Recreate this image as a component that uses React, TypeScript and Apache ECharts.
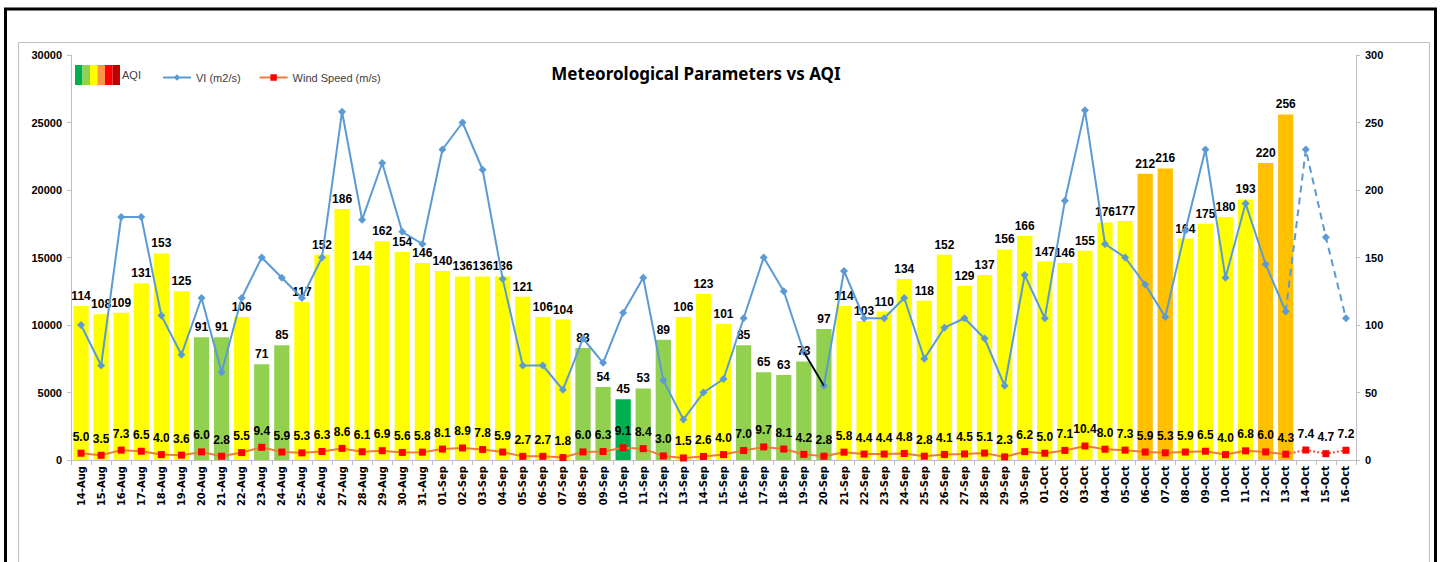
import React, { useEffect, useRef } from "react";
import * as echarts from "echarts";

const dates = [
  "14-Aug","15-Aug","16-Aug","17-Aug","18-Aug","19-Aug","20-Aug","21-Aug","22-Aug","23-Aug","24-Aug","25-Aug","26-Aug","27-Aug","28-Aug","29-Aug","30-Aug","31-Aug",
  "01-Sep","02-Sep","03-Sep","04-Sep","05-Sep","06-Sep","07-Sep","08-Sep","09-Sep","10-Sep","11-Sep","12-Sep","13-Sep","14-Sep","15-Sep","16-Sep","17-Sep","18-Sep","19-Sep","20-Sep","21-Sep","22-Sep","23-Sep","24-Sep","25-Sep","26-Sep","27-Sep","28-Sep","29-Sep","30-Sep",
  "01-Oct","02-Oct","03-Oct","04-Oct","05-Oct","06-Oct","07-Oct","08-Oct","09-Oct","10-Oct","11-Oct","12-Oct","13-Oct","14-Oct","15-Oct","16-Oct",
];

const aqi: (number | null)[] = [
  114,108,109,131,153,125,91,91,106,71,85,117,152,186,144,162,154,146,
  140,136,136,136,121,106,104,83,54,45,53,89,106,123,101,85,65,63,73,97,114,103,110,134,118,152,129,137,156,166,
  147,146,155,176,177,212,216,164,175,180,193,220,256,null,null,null,
];

const vi = [
  10000,7000,18000,18000,10700,7800,12000,6500,12000,15000,13500,12000,15000,25800,17800,22000,16900,16000,
  23000,25000,21500,13400,7000,7000,5200,9000,7200,10900,13500,5900,3000,5000,6000,10500,15000,12500,8000,5500,14000,10500,10500,12000,7500,9800,10500,9000,5500,13700,
  10500,19200,25900,16000,15000,13000,10600,17000,23000,13500,19000,14500,11000,23000,16500,10500,
];

const wind = [
  5.0,3.5,7.3,6.5,4.0,3.6,6.0,2.8,5.5,9.4,5.9,5.3,6.3,8.6,6.1,6.9,5.6,5.8,
  8.1,8.9,7.8,5.9,2.7,2.7,1.8,6.0,6.3,9.1,8.4,3.0,1.5,2.6,4.0,7.0,9.7,8.1,4.2,2.8,5.8,4.4,4.4,4.8,2.8,4.1,4.5,5.1,2.3,6.2,
  5.0,7.1,10.4,8.0,7.3,5.9,5.3,5.9,6.5,4.0,6.8,6.0,4.3,7.4,4.7,7.2,
];

const lastObserved = 60; // 13-Oct
const blackSegment = [36, 37]; // 19-Sep -> 20-Sep

const aqiColor = (v: number) => {
  if (v <= 50) return "#00B050";
  if (v <= 100) return "#92D050";
  if (v <= 200) return "#FFFF00";
  if (v <= 300) return "#FFC000";
  return "#FF0000";
};

const swatchColors = ["#00B050", "#92D050", "#FFFF00", "#F79646", "#FF0000", "#C00000"];

export default function App() {
  const ref = useRef<HTMLDivElement>(null);
  useEffect(() => {
    if (!ref.current) return;
    const chart = echarts.init(ref.current, undefined, { renderer: "svg" });
    const labelFont = { fontFamily: "Liberation Sans", fontWeight: "bold" as const, fontSize: 12, color: "#000" };

    const viMain = vi.map((v, i) => (i <= lastObserved ? v : null));
    const viFc = vi.map((v, i) => (i >= lastObserved ? (i === lastObserved ? { value: v, symbol: "none" } : v) : null));
    const viBlack = vi.map((v, i) => (blackSegment.includes(i) ? v : null));
    const windMain = wind.map((v, i) => (i <= lastObserved ? v : null));
    const windFc = wind.map((v, i) =>
      i >= lastObserved ? (i === lastObserved ? { value: v, label: { show: false }, symbol: "none" } : v) : null
    );

    const swatchX = 75;
    const swatch = swatchColors.map((c, i) => ({
      type: "rect",
      shape: { x: swatchX + i * 7.5, y: 65, width: 7.5, height: 20 },
      style: { fill: c },
      silent: true,
    }));

    chart.setOption({
      animation: false,
      backgroundColor: "#fff",
      title: {
        text: "Meteorological Parameters vs AQI",
        left: 691,
        top: 60,
        textAlign: "center",
        textStyle: { fontFamily: "Noto Sans", fontWeight: "bold", fontSize: 17, color: "#000" },
      },
      legend: {
        data: ["VI (m2/s)", "Wind Speed (m/s)"],
        left: 157,
        top: 67,
        itemWidth: 28,
        itemHeight: 8,
        itemGap: 18,
        textStyle: { fontFamily: "Liberation Sans Narrow, Liberation Sans", fontSize: 11, color: "#404040" },
      },
      graphic: [
        { type: "rect", shape: { x: 5.5, y: 9, width: 1430, height: 570 }, style: { fill: "none", stroke: "#000", lineWidth: 3 }, silent: true },
        { type: "rect", shape: { x: 18.5, y: 42.5, width: 1411, height: 560 }, style: { fill: "none", stroke: "#BFBFBF", lineWidth: 1 }, silent: true },
        ...swatch,
        {
          type: "text",
          x: 122,
          y: 75,
          style: { text: "AQI", fill: "#404040", font: "11px 'Liberation Sans Narrow', 'Liberation Sans'", textVerticalAlign: "middle" },
          silent: true,
        },
      ],
      grid: { left: 71, right: 86, top: 55, bottom: 102, containLabel: false },
      xAxis: {
        type: "category",
        data: dates,
        axisLine: { lineStyle: { color: "#BFBFBF" } },
        axisTick: { show: true, interval: 0, length: 5, lineStyle: { color: "#BFBFBF" } },
        axisLabel: { interval: 0, rotate: 90, margin: 6, fontFamily: "DejaVu Sans", fontWeight: "bold", fontSize: 10, color: "#000" },
      },
      yAxis: [
        {
          type: "value",
          min: 0,
          max: 30000,
          interval: 5000,
          splitLine: { show: false },
          axisLine: { show: true, lineStyle: { color: "#BFBFBF" } },
          axisTick: { show: true, length: 4, lineStyle: { color: "#BFBFBF" } },
          axisLabel: {
            fontFamily: "Liberation Sans",
            fontWeight: "bold",
            fontSize: 11,
            color: "#000",
            margin: 9,
            formatter: (v: number) => String(v),
          },
        },
        {
          type: "value",
          min: 0,
          max: 300,
          interval: 50,
          splitLine: { show: false },
          axisLine: { show: true, lineStyle: { color: "#BFBFBF" } },
          axisTick: { show: true, length: 4, lineStyle: { color: "#BFBFBF" } },
          axisLabel: {
            fontFamily: "Liberation Sans",
            fontWeight: "bold",
            fontSize: 11,
            color: "#000",
            margin: 9,
            formatter: (v: number) => String(v),
          },
        },
      ],
      series: [
        {
          name: "AQI",
          type: "bar",
          yAxisIndex: 1,
          barCategoryGap: "24%",
          data: aqi.map((v) => (v == null ? null : { value: v, itemStyle: { color: aqiColor(v) } })),
          label: { show: true, position: "top", distance: 4, ...labelFont },
          z: 1,
        },
        {
          name: "VI (m2/s)",
          type: "line",
          yAxisIndex: 0,
          data: viMain,
          symbol: "diamond",
          symbolSize: 8,
          lineStyle: { color: "#5B9BD5", width: 2 },
          itemStyle: { color: "#5B9BD5" },
          z: 3,
        },
        {
          name: "VI forecast",
          type: "line",
          yAxisIndex: 0,
          data: viFc,
          symbol: "diamond",
          symbolSize: 8,
          lineStyle: { color: "#5B9BD5", width: 2, type: [7, 5] },
          itemStyle: { color: "#5B9BD5" },
          z: 3,
        },
        {
          name: "VI segment",
          type: "line",
          yAxisIndex: 0,
          data: viBlack,
          symbol: "none",
          lineStyle: { color: "#000", width: 1.5 },
          z: 4,
        },
        {
          name: "Wind Speed (m/s)",
          type: "line",
          yAxisIndex: 1,
          data: windMain,
          symbol: "rect",
          symbolSize: 7,
          lineStyle: { color: "#F07C3A", width: 2 },
          itemStyle: { color: "#FF0000" },
          label: { show: true, position: "top", distance: 7, formatter: (p: any) => Number(p.value).toFixed(1), ...labelFont },
          z: 5,
        },
        {
          name: "Wind forecast",
          type: "line",
          yAxisIndex: 1,
          data: windFc,
          symbol: "rect",
          symbolSize: 7,
          lineStyle: { color: "#F0503A", width: 2, type: "dotted" },
          itemStyle: { color: "#FF0000" },
          label: { show: true, position: "top", distance: 7, formatter: (p: any) => Number(p.value).toFixed(1), ...labelFont },
          z: 5,
        },
      ],
    });
    return () => chart.dispose();
  }, []);
  return <div ref={ref} style={{ position: "absolute", left: 0, top: 0, width: 1442, height: 562 }} />;
}
